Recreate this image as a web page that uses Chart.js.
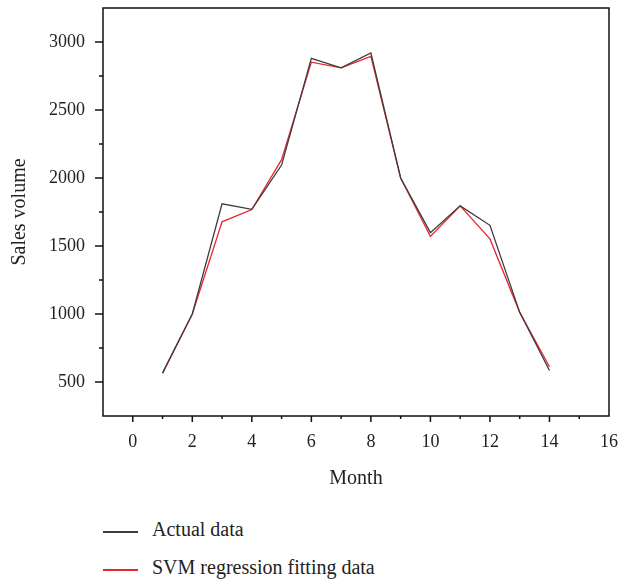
<!DOCTYPE html>
<html>
<head>
<meta charset="utf-8">
<script src="https://cdn.jsdelivr.net/npm/chart.js@4.4.0/dist/chart.umd.min.js"></script>
<style>
  body { margin: 0; background: #fff; }
  #wrap { position: relative; width: 622px; height: 582px; }
  #box { position: absolute; left: 0; top: 0; width: 622px; height: 500px; }
  .legend { position: absolute; left: 103px; font-family: "Liberation Serif", serif; font-size: 20px; color: #222; }
  .legend .item { position: absolute; white-space: nowrap; }
  .legend .swatch { position: absolute; left: 0; top: 0; width: 35px; height: 1.5px; }
  .legend .label { position: absolute; left: 49px; top: -13px; }
</style>
</head>
<body>
<div id="wrap">
  <div id="box"><canvas id="chart"></canvas></div>
  <div class="legend" id="legend"></div>
</div>
<script>
// months on the x axis
const months = [1, 2, 3, 4, 5, 6, 7, 8, 9, 10, 11, 12, 13, 14];
// actual sales
const actualData = [565, 1000, 1810, 1770, 2095, 2880, 2810, 2920, 2000, 1598, 1795, 1652, 1012, 585];
// SVM fitted values
const svmData = [565, 1000, 1678, 1768, 2135, 2852, 2810, 2895, 2000, 1570, 1795, 1552, 1012, 612];

const seriesNames = ['Actual data', 'SVM regression fitting data'];
const seriesColors = ['#3c3c3c', '#e8262d'];

const xTickLabels = [0, 2, 4, 6, 8, 10, 12, 14, 16];
const yTickLabels = [500, 1000, 1500, 2000, 2500, 3000];

const serif = '"Liberation Serif", serif';

function toPoints(vals) {
    return months.map((m, i) => ({ x: m, y: vals[i] }));
}

// frame + major/minor tick marks drawn outward
const frameTicks = {
    id: 'frameTicks',
    afterDraw(chart) {
        const ctx = chart.ctx;
        const a = chart.chartArea;
        const xs = chart.scales.x;
        const ys = chart.scales.y;
        ctx.save();
        ctx.strokeStyle = '#111';
        ctx.lineWidth = 1.5;
        ctx.strokeRect(a.left, a.top, a.right - a.left, a.bottom - a.top);

        xs.ticks.forEach(t => {
            if (t.value <= xs.min || t.value >= xs.max) return;
            const px = xs.getPixelForValue(t.value);
            const len = xTickLabels.includes(t.value) ? 6 : 3;
            ctx.beginPath();
            ctx.moveTo(px, a.bottom);
            ctx.lineTo(px, a.bottom + len);
            ctx.stroke();
        });
        ys.ticks.forEach(t => {
            if (t.value <= ys.min || t.value >= ys.max) return;
            const py = ys.getPixelForValue(t.value);
            const len = yTickLabels.includes(t.value) ? 8 : 4;
            ctx.beginPath();
            ctx.moveTo(a.left, py);
            ctx.lineTo(a.left - len, py);
            ctx.stroke();
        });
        ctx.restore();
    }
};

new Chart(document.getElementById('chart'), {
    type: 'line',
    data: {
        datasets: [
            { label: seriesNames[0], data: toPoints(actualData), borderColor: seriesColors[0], borderWidth: 1.3, pointRadius: 0, tension: 0, fill: false },
            { label: seriesNames[1], data: toPoints(svmData), borderColor: seriesColors[1], borderWidth: 1.3, pointRadius: 0, tension: 0, fill: false }
        ]
    },
    options: {
        responsive: true,
        maintainAspectRatio: false,
        animation: false,
        layout: { padding: { top: 8, right: 13, left: 0, bottom: 0 } },
        plugins: { legend: { display: false }, tooltip: { enabled: false } },
        scales: {
            x: {
                type: 'linear',
                min: -1,
                max: 16,
                grid: { display: false, drawTicks: false },
                border: { display: false },
                ticks: {
                    stepSize: 1,
                    padding: 15,
                    color: '#222',
                    font: { family: serif, size: 18 },
                    callback: v => xTickLabels.includes(v) ? String(v) : ''
                },
                title: { display: true, text: 'Month', color: '#222', font: { family: serif, size: 20 }, padding: { top: 3, bottom: 9 } },
                afterFit: s => { s.height = 84; s.paddingLeft = 0; s.paddingRight = 0; }
            },
            y: {
                min: 250,
                max: 3250,
                grid: { display: false, drawTicks: false },
                border: { display: false },
                ticks: {
                    stepSize: 250,
                    padding: 18,
                    color: '#222',
                    font: { family: serif, size: 18 },
                    callback: v => yTickLabels.includes(v) ? String(v) : ''
                },
                title: { display: true, text: 'Sales volume', color: '#222', font: { family: serif, size: 20 }, padding: { top: 8, bottom: 4 } },
                afterFit: s => { s.width = 103; s.paddingTop = 0; s.paddingBottom = 0; }
            }
        }
    },
    plugins: [frameTicks]
});

// legend below the plot
const legend = document.getElementById('legend');
const legendY = [531, 569];
seriesNames.forEach((name, i) => {
    const item = document.createElement('div');
    item.className = 'item';
    item.style.top = legendY[i] + 'px';
    item.innerHTML = '<div class="swatch" style="background:' + seriesColors[i] + '"></div><span class="label">' + name + '</span>';
    legend.appendChild(item);
});
</script>
</body>
</html>
